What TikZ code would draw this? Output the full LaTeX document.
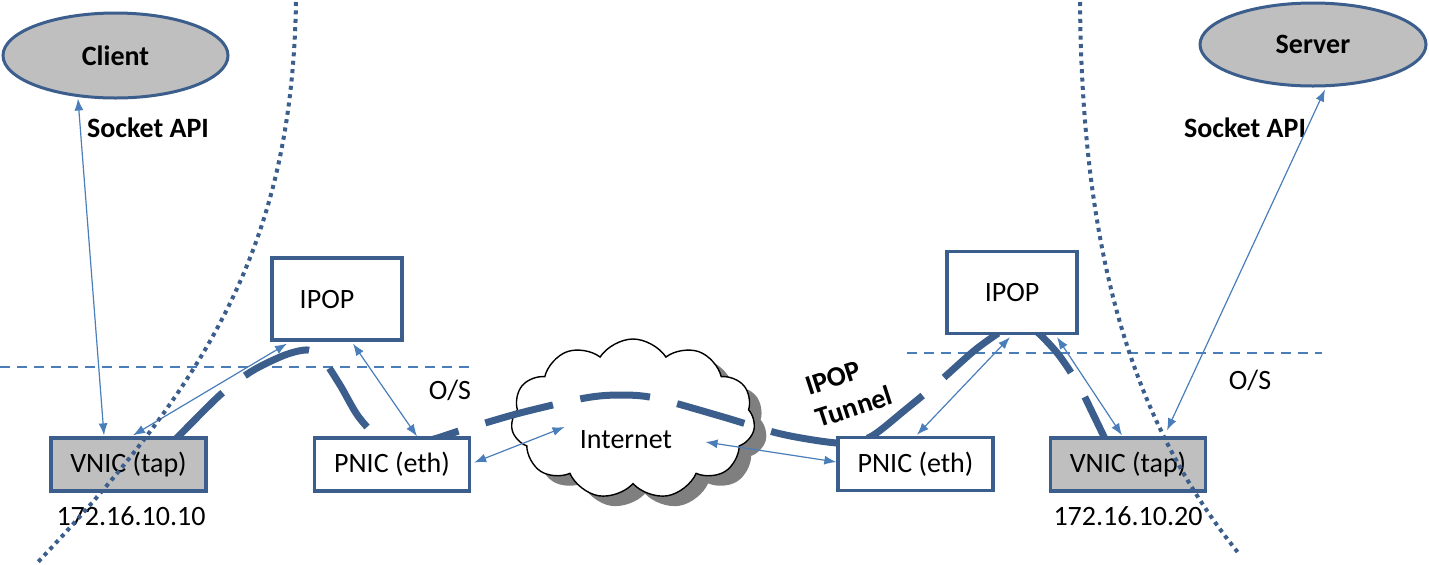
\documentclass[tikz,border=0pt]{standalone}
\usepackage{fontspec}
\setmainfont{Carlito}
\usetikzlibrary{shapes.geometric,shapes.symbols,arrows.meta,calc}
\definecolor{dkblue}{RGB}{59,94,140}
\definecolor{ltblue}{RGB}{74,126,187}
\definecolor{boxgray}{RGB}{191,191,191}
\definecolor{shadowgray}{RGB}{127,127,127}
\tikzset{
  fnt/.style={font=\fontsize{14}{17}\selectfont},
  box/.style={draw=dkblue, line width=1.65pt, fill=white, minimum width=77.5pt, minimum height=26.5pt, inner sep=0pt, fnt},
  graybox/.style={box, fill=boxgray},
  ipopbox/.style={box, minimum width=65pt, minimum height=41pt},
  ell/.style={ellipse, draw=dkblue, line width=1.5pt, fill=boxgray, inner sep=0pt, font=\bfseries\fontsize{14}{17}\selectfont},
  txt/.style={fnt, inner sep=0pt},
  btxt/.style={font=\bfseries\fontsize{14}{17}\selectfont, inner sep=0pt},
  link/.style={draw=ltblue, line width=0.6pt, {Latex[length=6pt,width=4.5pt]}-{Latex[length=6pt,width=4.5pt]}},
  tunnel/.style={draw=dkblue, line width=3.5pt, dash pattern=on 35pt off 14pt},
  osborder/.style={draw=dkblue, line width=2pt, dash pattern=on 2pt off 2.2pt},
  osline/.style={draw=ltblue, line width=0.6pt, dash pattern=on 5pt off 3.5pt},
  cloudsh/.style={cloud, cloud puffs=11, cloud puff arc=115, aspect=1.5, minimum width=122pt, minimum height=80pt, inner sep=0pt},
}
\begin{document}
\begin{tikzpicture}[x=0.5pt, y=-0.5pt]
\useasboundingbox (0,0) rectangle (1429,564);

% O/S separation lines
\coordinate (osl1) at (0,367);
\coordinate (osl2) at (473,367);
\coordinate (osr1) at (907,353);
\coordinate (osr2) at (1322,353);
\draw[osline] (osl1) -- (osl2);
\draw[osline] (osr1) -- (osr2);

% cloud
\node[cloudsh, fill=shadowgray, draw=none] (cloudshadow) at (645,429) {};
\node[cloudsh, fill=white, draw=black, line width=0.7pt] (cloud) at (633,419) {};
\node[txt] (inet) at (626,440) {Internet};

% tunnel
\draw[tunnel] plot[smooth, tension=0.5] coordinates {
  (173,442) (220,395) (252,371) (285,355) (308,350) (322,358) (340,385)
  (358,416) (378,437) (400,443) (430,440) (462,430) (520,413) (585,398)
  (620,395) (655,398) (720,416) (777,433) (820,441) (847,443) (872,436)
  (905,410) (940,381) (975,350) (1003,330) (1018,322) (1035,330) (1058,354)
  (1078,384) (1094,416) (1108,445)};

% nodes
\node[ell, minimum width=112.5pt, minimum height=42.5pt] (client) at (115.5,55.5) {Client};
\node[ell, minimum width=113pt, minimum height=41.5pt] (server) at (1313,44.5) {Server};
\node[btxt] (sock1) at (148,128) {Socket API};
\node[btxt] (sock2) at (1245,128) {Socket API};

\node[ipopbox] (ipop1) at (337,299) {\hspace*{-10pt}IPOP};
\node[ipopbox] (ipop2) at (1012,292.5) {IPOP};

\node[graybox] (vnic1) at (128.5,464.5) {VNIC (tap)};
\node[box] (pnic1) at (392,464.5) {PNIC (eth)};
\node[box] (pnic2) at (915.5,464) {PNIC (eth)};
\node[graybox] (vnic2) at (1128,464.5) {VNIC (tap)};

\node[txt] (ip1) at (131,516) {172.16.10.10};
\node[txt] (ip2) at (1128,516) {172.16.10.20};
\node[txt] (os1) at (450,390) {O/S};
\node[txt] (os2) at (1250,380) {O/S};
\node[btxt, rotate=18, align=left] (tlabel) at (849,391) {IPOP\\Tunnel};

% links
\draw[link] ($(client.south)+(-37.5,-1)$) -- ($(vnic1.north)+(-24.5,-1)$);
\draw[link] ($(vnic1.north)+(4.5,-1)$) -- ($(ipop1.south)+(-50,2)$);
\draw[link] ($(ipop1.south)+(16,2)$) -- ($(pnic1.north)+(25,0)$);
\draw[link] ($(pnic1.east)+(3,-2)$) -- ($(inet.west)+(-15,-13)$);
\draw[link] ($(inet.east)+(33,2)$) -- ($(pnic2.west)+(0,-2)$);
\draw[link] ($(pnic2.north)+(1.5,-1)$) -- ($(ipop2.south)+(-2,2)$);
\draw[link] ($(ipop2.south)+(45,2)$) -- ($(vnic2.north)+(-6,-1)$);
\draw[link] ($(server.south)+(12,2)$) -- ($(vnic2.north)+(39,-6)$);

% host / OS boundaries
\coordinate (bl1) at (296,2);
\coordinate (bl2) at (38,562);
\coordinate (br1) at (1080,2);
\coordinate (br2) at (1240,555);
\draw[osborder] (bl1) .. controls (292,230) and (220,370) .. (bl2);
\draw[osborder] (br1) .. controls (1082,250) and (1130,420) .. (br2);
\end{tikzpicture}
\end{document}
